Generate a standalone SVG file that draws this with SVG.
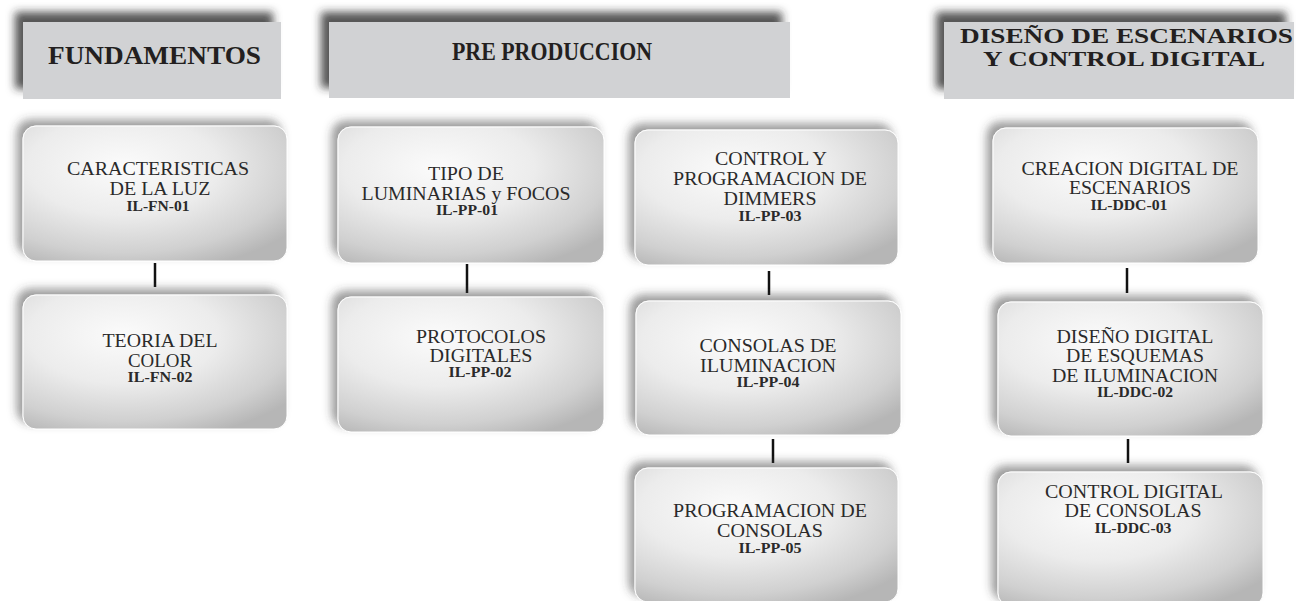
<svg xmlns="http://www.w3.org/2000/svg" width="1296" height="601" viewBox="0 0 1296 601">
<defs>
<filter id="hs" x="-20%" y="-40%" width="140%" height="180%">
<feDropShadow dx="-8" dy="-10" stdDeviation="4" flood-color="#2a2a2a" flood-opacity="0.8"/>
</filter>
<filter id="ns" x="-20%" y="-30%" width="140%" height="160%">
<feDropShadow dx="-6" dy="-6" stdDeviation="4.5" flood-color="#3a3a3a" flood-opacity="0.5"/>
</filter>
<radialGradient id="ng" cx="0.38" cy="0.3" r="0.8" fx="0.38" fy="0.3">
<stop offset="0" stop-color="#fbfbfb"/>
<stop offset="0.45" stop-color="#ececec"/>
<stop offset="0.8" stop-color="#d0d0d0"/>
<stop offset="1" stop-color="#b6b6b6"/>
</radialGradient>
</defs>
<style>
.hdr{fill:#d1d2d4;filter:url(#hs)}
.node{fill:url(#ng);stroke:#ffffff;stroke-width:1;filter:url(#ns)}
.ht{font-family:"Liberation Serif","Times New Roman",serif;font-weight:bold;fill:#231f20;text-anchor:middle}
.t{font-family:"Liberation Serif","Times New Roman",serif;font-size:18.5px;fill:#2a2a2a;text-anchor:middle}
.c{font-family:"Liberation Serif","Times New Roman",serif;font-size:15px;font-weight:bold;fill:#2a2a2a;text-anchor:middle}
.con{stroke:#111;stroke-width:2.5;fill:none}
</style>
<rect width="1296" height="601" fill="#ffffff"/>

<g id="hdr-fundamentos">
<rect class="hdr" x="23" y="22" width="258" height="77"/>
<text class="ht" x="154.5" y="64" font-size="26" textLength="213" lengthAdjust="spacingAndGlyphs">FUNDAMENTOS</text>
</g>
<g id="hdr-preproduccion">
<rect class="hdr" x="329" y="22" width="461" height="76"/>
<text class="ht" x="552" y="60" font-size="25" textLength="200" lengthAdjust="spacingAndGlyphs">PRE PRODUCCION</text>
</g>
<g id="hdr-diseno">
<rect class="hdr" x="944" y="22" width="350" height="77"/>
<text class="ht" x="1126.5" y="42.5" font-size="21.5" textLength="333" lengthAdjust="spacingAndGlyphs">DISEÑO DE ESCENARIOS</text>
<text class="ht" x="1124" y="66" font-size="21.5" textLength="282" lengthAdjust="spacingAndGlyphs">Y CONTROL DIGITAL</text>
</g>

<g id="connectors">
<line class="con" x1="155" y1="263" x2="155" y2="287"/>
<line class="con" x1="467" y1="264" x2="467" y2="293"/>
<line class="con" x1="769" y1="271" x2="769" y2="295"/>
<line class="con" x1="773" y1="439" x2="773" y2="463"/>
<line class="con" x1="1127" y1="268" x2="1127" y2="293"/>
<line class="con" x1="1128" y1="439" x2="1128" y2="463"/>
</g>

<g id="il-fn-01">
<rect class="node" x="23" y="126" width="264" height="135" rx="13"/>
<text class="t" x="158" y="175" textLength="182" lengthAdjust="spacingAndGlyphs">CARACTERISTICAS</text>
<text class="t" x="160" y="195" textLength="101" lengthAdjust="spacingAndGlyphs">DE LA LUZ</text>
<text class="c" x="158" y="211" textLength="63" lengthAdjust="spacingAndGlyphs">IL-FN-01</text>
</g>
<g id="il-fn-02">
<rect class="node" x="23" y="295" width="264" height="134" rx="13"/>
<text class="t" x="160" y="347" textLength="115" lengthAdjust="spacingAndGlyphs">TEORIA DEL</text>
<text class="t" x="160" y="367" textLength="64" lengthAdjust="spacingAndGlyphs">COLOR</text>
<text class="c" x="160" y="382" textLength="65" lengthAdjust="spacingAndGlyphs">IL-FN-02</text>
</g>

<g id="il-pp-01">
<rect class="node" x="338" y="127" width="266" height="136" rx="13"/>
<text class="t" x="466" y="180" textLength="76" lengthAdjust="spacingAndGlyphs">TIPO DE</text>
<text class="t" x="466" y="200" textLength="209" lengthAdjust="spacingAndGlyphs">LUMINARIAS y FOCOS</text>
<text class="c" x="467" y="215" textLength="62" lengthAdjust="spacingAndGlyphs">IL-PP-01</text>
</g>
<g id="il-pp-02">
<rect class="node" x="338" y="297" width="266" height="135" rx="13"/>
<text class="t" x="481" y="343" textLength="130" lengthAdjust="spacingAndGlyphs">PROTOCOLOS</text>
<text class="t" x="481" y="362" textLength="103" lengthAdjust="spacingAndGlyphs">DIGITALES</text>
<text class="c" x="480" y="377" textLength="63" lengthAdjust="spacingAndGlyphs">IL-PP-02</text>
</g>

<g id="il-pp-03">
<rect class="node" x="635" y="130" width="263" height="135" rx="13"/>
<text class="t" x="771" y="165" textLength="112" lengthAdjust="spacingAndGlyphs">CONTROL Y</text>
<text class="t" x="770" y="185" textLength="194" lengthAdjust="spacingAndGlyphs">PROGRAMACION DE</text>
<text class="t" x="770" y="205" textLength="93" lengthAdjust="spacingAndGlyphs">DIMMERS</text>
<text class="c" x="770" y="221" textLength="63" lengthAdjust="spacingAndGlyphs">IL-PP-03</text>
</g>
<g id="il-pp-04">
<rect class="node" x="636" y="301" width="265" height="134" rx="13"/>
<text class="t" x="768" y="352" textLength="137" lengthAdjust="spacingAndGlyphs">CONSOLAS DE</text>
<text class="t" x="768" y="372" textLength="136" lengthAdjust="spacingAndGlyphs">ILUMINACION</text>
<text class="c" x="768" y="387" textLength="63" lengthAdjust="spacingAndGlyphs">IL-PP-04</text>
</g>
<g id="il-pp-05">
<rect class="node" x="635" y="468" width="263" height="134" rx="13"/>
<text class="t" x="770" y="517" textLength="194" lengthAdjust="spacingAndGlyphs">PROGRAMACION DE</text>
<text class="t" x="770" y="537" textLength="106" lengthAdjust="spacingAndGlyphs">CONSOLAS</text>
<text class="c" x="770" y="553" textLength="63" lengthAdjust="spacingAndGlyphs">IL-PP-05</text>
</g>

<g id="il-ddc-01">
<rect class="node" x="993" y="128" width="265" height="135" rx="13"/>
<text class="t" x="1130" y="175" textLength="217" lengthAdjust="spacingAndGlyphs">CREACION DIGITAL DE</text>
<text class="t" x="1130" y="194" textLength="122" lengthAdjust="spacingAndGlyphs">ESCENARIOS</text>
<text class="c" x="1129" y="210" textLength="77" lengthAdjust="spacingAndGlyphs">IL-DDC-01</text>
</g>
<g id="il-ddc-02">
<rect class="node" x="998" y="302" width="265" height="134" rx="13"/>
<text class="t" x="1135" y="343" textLength="157" lengthAdjust="spacingAndGlyphs">DISEÑO DIGITAL</text>
<text class="t" x="1135" y="362" textLength="138" lengthAdjust="spacingAndGlyphs">DE ESQUEMAS</text>
<text class="t" x="1135" y="382" textLength="166" lengthAdjust="spacingAndGlyphs">DE ILUMINACION</text>
<text class="c" x="1135" y="397" textLength="76" lengthAdjust="spacingAndGlyphs">IL-DDC-02</text>
</g>
<g id="il-ddc-03">
<rect class="node" x="998" y="472" width="265" height="134" rx="13"/>
<text class="t" x="1134" y="498" textLength="178" lengthAdjust="spacingAndGlyphs">CONTROL DIGITAL</text>
<text class="t" x="1133" y="517" textLength="137" lengthAdjust="spacingAndGlyphs">DE CONSOLAS</text>
<text class="c" x="1133" y="533" textLength="77" lengthAdjust="spacingAndGlyphs">IL-DDC-03</text>
</g>
</svg>
